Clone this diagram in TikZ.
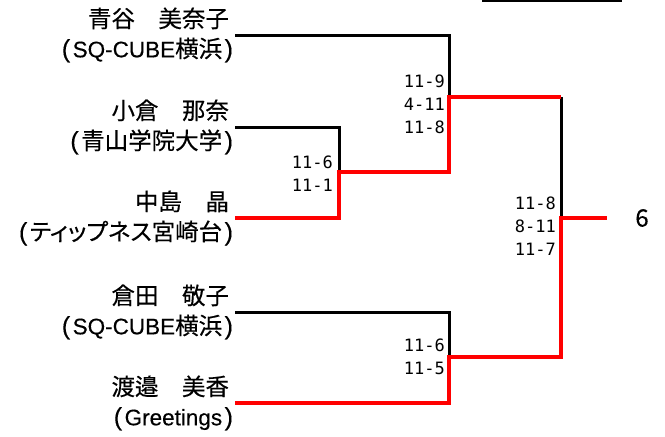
\documentclass[tikz,border=0pt]{standalone}
\usepackage{fontspec}
\setmainfont{Noto Sans CJK JP}[FakeBold=0.3]
\newfontfamily\kanafont{Noto Sans CJK JP}[FakeBold=0.3,RawFeature=+palt]
\newfontfamily\latfont{Liberation Sans}[FakeBold=0.3]
\newfontfamily\scorefont{DejaVu Sans Mono}
\newcommand{\lat}[1]{{\latfont\fontsize{22.5}{30}\selectfont #1}}
\newcommand{\paren}[1]{{\latfont\fontsize{25}{30}\selectfont #1}}
\newcommand{\po}{\paren{(}\kern2.5pt}
\newcommand{\pc}{\kern2.5pt\paren{)}\kern-4pt}
\begin{document}
\begin{tikzpicture}[x=1pt,y=-1pt,line join=miter,
  player/.style={anchor=east,align=right,inner xsep=6pt,inner ysep=0pt,outer sep=0pt,
    font=\fontsize{23.5}{30}\selectfont},
  score/.style={anchor=east,align=right,inner sep=0pt,font=\scorefont\fontsize{17}{23}\selectfont},
  champ/.style={inner sep=0pt,font=\fontsize{24}{26}\selectfont},
  lost/.style={draw=black,line width=3pt},
  won/.style={draw=red,line width=4pt}]
\useasboundingbox (0,0) rectangle (665,437);
% players
\node[player] (p1) at (235,35)  {青谷　美奈子\\\po\lat{SQ-CUBE}横浜\pc};
\node[player] (p2) at (235,127) {小倉　那奈\\\po 青山学院大学\pc};
\node[player] (p3) at (235,218) {中島　晶\\\po{\kanafont ティップネス}宮崎台\pc};
\node[player] (p4) at (235,312) {倉田　敬子\\\po\lat{SQ-CUBE}横浜\pc};
\node[player] (p5) at (235,403) {渡邉　美香\\\po\lat{Greetings}\pc};
% junctions
\coordinate (mA) at (339,172);
\coordinate (mB) at (449,97);
\coordinate (mC) at (449,357);
\coordinate (fB) at (561,97);
\coordinate (mF) at (561,218);
\coordinate (wEnd) at (607,218);
\node[champ] (w) at (642,218) {6};
% top line
\coordinate (tL) at (482,1);
\coordinate (tR) at (622,1);
\draw[draw=black,line width=2pt] (tL) -- (tR);
% losing branches
\draw[lost] (p1.east) -| (mB);
\draw[lost] (p2.east) -| (mA);
\draw[lost] (p4.east) -| (mC);
\draw[lost] (fB) -- (mF);
% winning branches
\draw[won] (p3.east) -| (mA) -| (mB) -- (fB);
\draw[won] (p5.east) -| (mC) -| (mF) -- (wEnd);
% scores
\node[score] (sA) at (333,174) {11-6\\11-1};
\node[score] (sB) at (445,104) {11-9\\4-11\\11-8};
\node[score] (sC) at (445,357) {11-6\\11-5};
\node[score] (sF) at (556,226) {11-8\\8-11\\11-7};
\end{tikzpicture}
\end{document}
